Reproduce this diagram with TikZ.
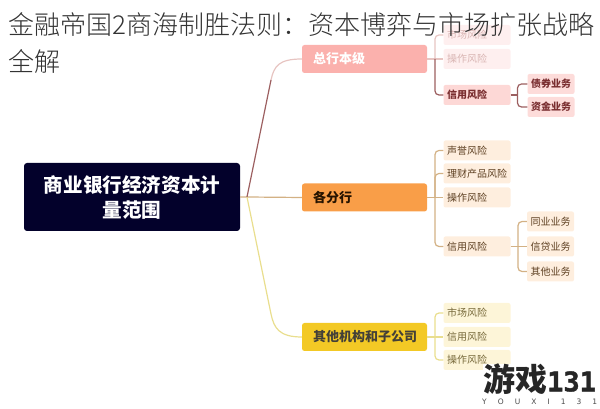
\documentclass[tikz,border=0pt]{standalone}
\usepackage{fontspec}
\setmainfont{Noto Sans CJK SC}
\newfontfamily\numfont{DejaVu Sans}
\newfontfamily\marknum[BoldFeatures={FakeBold=1.5}]{DejaVu Sans Mono}
\newfontfamily\titlefont{Noto Sans CJK SC Light}
\usetikzlibrary{arrows}

\definecolor{rootc}{HTML}{03012B}
\definecolor{redc}{HTML}{FBB1AD}
\definecolor{orangec}{HTML}{F99E48}
\definecolor{yellowc}{HTML}{F3C925}
\definecolor{redtxt}{HTML}{7A2E30}
\definecolor{redpale}{HTML}{D9B5B3}
\definecolor{orangetxt}{HTML}{5E4022}
\definecolor{yellowtxt}{HTML}{77693A}
\definecolor{orangeline}{HTML}{D3B184}
\definecolor{yellowline}{HTML}{E9DE8E}
\definecolor{redline}{HTML}{9C5F60}
\definecolor{redsoft}{HTML}{E7C4C1}

\tikzset{
    box/.style = {rectangle, rounded corners=2.5pt, minimum width=125pt, minimum height=28pt, inner sep=0pt, text width=103pt, align=left, font=\fontsize{13}{15}\selectfont\bfseries},
    leaf/.style = {rectangle, rounded corners=2pt, minimum width=67pt, minimum height=20pt, inner sep=0pt, text width=60pt, align=left, font=\fontsize{10}{12}\selectfont},
    twig/.style = {leaf, minimum width=47pt, text width=40pt},
    titleline/.style = {anchor=west, inner sep=0pt, text=black!80, font=\fontsize{26}{28}\selectfont\titlefont},
    link/.style = {line width=1.2pt, rounded corners=4pt}
}

\begin{document}
\begin{tikzpicture}[node distance={24pt}]
            \useasboundingbox (0pt,0pt) rectangle (600pt,409pt);

            % Nodes
            \node[rectangle, rounded corners=3pt, fill=rootc, text=white, minimum width=216pt, minimum height=68pt, align=center, font=\fontsize{19.6}{25}\selectfont\bfseries] (root) at (132pt,212pt) {商业银行经济资本计\\量范围};
            \coordinate (hub) at (247pt,212pt);

            \node[box, fill=redc, text=white] (b1) at (364.5pt,350pt) {总行本级};
            \node[box, fill=orangec, text=black!85!orange] (b2) at (364.5pt,211.5pt) {各分行};
            \node[box, fill=yellowc, text=black!85!yellow] (b3) at (364.5pt,72pt) {其他机构和子公司};

            % Leaves of b1
            \node[leaf, fill=redc!20, text=redpale] (b1m) [right of=b1, node distance=112.5pt] {操作风险};
            \node[leaf, fill=redc!20, text=redpale] (b1s) [above of=b1m] {市场风险};
            \node[leaf, fill=redc!50, text=redtxt, font=\fontsize{10}{12}\selectfont\bfseries] (b1c) [below of=b1m, node distance=36pt] {信用风险};
            \node[twig, fill=redc!45, text=redtxt, font=\fontsize{10}{12}\selectfont\bfseries] (b1x) at (551pt,325pt) {债券业务};
            \node[twig, fill=redc!45, text=redtxt, font=\fontsize{10}{12}\selectfont\bfseries] (b1y) [below of=b1x, node distance=23pt] {资金业务};

            % Leaves of b2
            \node[leaf, fill=orangec!18, text=orangetxt] (b2o) [right of=b2, node distance=112.5pt] {操作风险};
            \node[leaf, fill=orangec!18, text=orangetxt] (b2f) [above of=b2o] {理财产品风险};
            \node[leaf, fill=orangec!18, text=orangetxt] (b2r) [above of=b2f, node distance=23pt] {声誉风险};
            \node[leaf, fill=orangec!18, text=orangetxt] (b2c) [below of=b2o, node distance=49pt] {信用风险};
            \node[twig, fill=orangec!18, text=orangetxt] (b2y) [right of=b2c, node distance=73.5pt] {信贷业务};
            \node[twig, fill=orangec!18, text=orangetxt] (b2x) [above of=b2y, node distance=25pt] {同业业务};
            \node[twig, fill=orangec!18, text=orangetxt] (b2z) [below of=b2y, node distance=25pt] {其他业务};

            % Leaves of b3
            \node[leaf, fill=yellowc!18, text=yellowtxt] (b3c) [right of=b3, node distance=112.5pt] {信用风险};
            \node[leaf, fill=yellowc!18, text=yellowtxt] (b3s) [above of=b3c] {市场风险};
            \node[leaf, fill=yellowc!18, text=yellowtxt] (b3o) [below of=b3c, node distance=23pt] {操作风险};

            % Forks
            \coordinate (f1) at (435pt,350pt);
            \coordinate (f2) at (435pt,211.5pt);
            \coordinate (f3) at (435pt,72pt);
            \coordinate (g1) at (517.5pt,314pt);
            \coordinate (g2) at (518pt,162.5pt);
            \coordinate (k1) at (271pt,329pt);
            \coordinate (k3) at (271pt,95pt);

            % Lines from the root
            \draw[line width=1.2pt, color=orangeline] (root.east) -- (hub) -- (b2.west);
            \draw[line width=1.2pt, color=yellowline] (hub) -- (k3) .. controls (274pt,81pt) and (279pt,72pt) .. (b3.west);
            \draw[line width=1.2pt, color=redsoft] (k1) .. controls (274pt,343pt) and (279pt,350pt) .. (b1.west);
            \draw[line width=1.2pt, color=redline] (hub) -- (k1);

            % Lines of b1
            \draw[link, color=redsoft] (b1.east) -- (b1m.west);
            \draw[link, color=redsoft] (f1) |- (b1s.west);
            \draw[link, color=redline] (f1) |- (b1c.west);
            \draw[link, color=redline] (b1c.east) -- (g1);
            \draw[link, color=redline] (g1) |- (b1x.west);
            \draw[link, color=redline] (g1) |- (b1y.west);

            % Lines of b2
            \draw[link, color=orangeline] (b2.east) -- (b2o.west);
            \draw[link, color=orangeline] (f2) |- (b2r.west);
            \draw[link, color=orangeline] (f2) -- (b2f.west -| f2) -- (b2f.west);
            \draw[link, color=orangeline] (f2) |- (b2c.west);
            \draw[link, color=orangeline] (b2c.east) -- (b2y.west);
            \draw[link, color=orangeline] (g2) |- (b2x.west);
            \draw[link, color=orangeline] (g2) |- (b2z.west);

            % Lines of b3
            \draw[link, color=yellowline] (b3.east) -- (b3c.west);
            \draw[link, color=yellowline] (f3) |- (b3s.west);
            \draw[link, color=yellowline] (f3) |- (b3o.west);

            % Title
            \node[titleline] (t1) at (8pt,384pt) {金融帝国2商海制胜法则\char"FF1A 资本博弈与市场扩张战略};
            \node[titleline] (t2) at (8pt,348pt) {全解};

            % Watermark
            \fill[white] (483pt,0pt) rectangle (600pt,45pt);
            \node[anchor=west, inner sep=0pt, text=black!85, font=\fontsize{32}{34}\selectfont\bfseries] (w1) at (483pt,30pt) {游戏{\marknum\fontsize{27}{32}\selectfont 131}};
            \node[anchor=west, inner sep=0pt, text width=115pt, text=black!70, font=\fontsize{7.5}{9}\selectfont\numfont] (w2) at (482pt,7.5pt) {Y\hfill O\hfill U\hfill X\hfill I\hfill 1\hfill 3\hfill 1};
        \end{tikzpicture}
\end{document}
